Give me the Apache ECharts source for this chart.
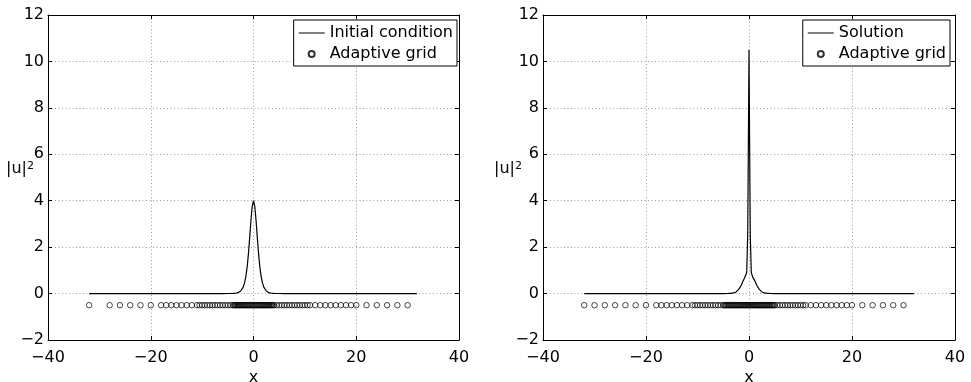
<!DOCTYPE html>
<html>
<head>
<meta charset="utf-8">
<script src="https://cdn.jsdelivr.net/npm/echarts@6/dist/echarts.min.js"></script>
<style>
html,body{margin:0;padding:0;background:#fff;}
#chart{width:971px;height:382px;}
</style>
</head>
<body>
<div id="chart"></div>
<script>
// ---- data ----
const xTicks = [-40, -20, 0, 20, 40];
const yTicks = [-2, 0, 2, 4, 6, 8, 10, 12];

// left panel: initial condition |u|^2
const initX = [-32, -6, -5, -4, -3.5, -3, -2.5, -2, -1.75, -1.5, -1.25, -1, -0.75, -0.5, -0.25, 0,
               0.25, 0.5, 0.75, 1, 1.25, 1.5, 1.75, 2, 2.5, 3, 3.5, 4, 5, 6, 31.8];
const initY = [0, 0, 0.002, 0.005, 0.015, 0.04, 0.11, 0.28, 0.46, 0.72, 1.12, 1.68, 2.39, 3.15, 3.76, 4.0,
               3.76, 3.15, 2.39, 1.68, 1.12, 0.72, 0.46, 0.28, 0.11, 0.04, 0.015, 0.005, 0.002, 0, 0];

// right panel: solution |u|^2
const solX = [-32, -5, -4, -3.5, -3, -2.5, -2, -1.5, -1.2, -0.9, -0.7, -0.45, -0.25, -0.12, 0,
              0.12, 0.25, 0.45, 0.7, 0.9, 1.2, 1.5, 2, 2.5, 3, 3.5, 4, 5, 32];
const solY = [0, 0, 0.005, 0.01, 0.03, 0.07, 0.18, 0.36, 0.52, 0.66, 0.72, 0.9, 2.5, 6.5, 10.5,
              6.5, 2.5, 0.9, 0.72, 0.66, 0.52, 0.36, 0.18, 0.07, 0.03, 0.01, 0.005, 0, 0];

// adaptive grid node positions (drawn at |u|^2 = -0.5)
const gridRowY = -0.5;
const gridInitX = [-32, -28, -26, -24, -22, -20, -18, -17, -16, -15, -14, -13, -12, -11,
  -10.5, -10, -9.5, -9, -8.5, -8, -7.5, -7, -6.5, -6, -5.5, -5, -4.5, -4,
  -3.8, -3.6, -3.4, -3.2, -3, -2.8, -2.6, -2.4, -2.2, -2, -1.8, -1.6, -1.4, -1.2, -1, -0.8, -0.6, -0.4, -0.2,
  0, 0.2, 0.4, 0.6, 0.8, 1, 1.2, 1.4, 1.6, 1.8, 2, 2.2, 2.4, 2.6, 2.8, 3, 3.2, 3.4, 3.6, 3.8, 4,
  4.5, 5, 5.5, 6, 6.5, 7, 7.5, 8, 8.5, 9, 9.5, 10, 10.5,
  11, 12, 13, 14, 15, 16, 17, 18, 19, 20, 22, 24, 26, 28, 30];
const gridSolX = [-32, -30, -28, -26, -24, -22, -20, -18, -17, -16, -15, -14, -13, -12, -11,
  -10.5, -10, -9.5, -9, -8.5, -8, -7.5, -7, -6.5, -6, -5.5,
  -5, -4.8, -4.6, -4.4, -4.2, -4, -3.8, -3.6, -3.4, -3.2, -3, -2.8, -2.6, -2.4, -2.2, -2, -1.8, -1.6, -1.4, -1.2, -1, -0.8, -0.6, -0.4, -0.2,
  0, 0.2, 0.4, 0.6, 0.8, 1, 1.2, 1.4, 1.6, 1.8, 2, 2.2, 2.4, 2.6, 2.8, 3, 3.2, 3.4, 3.6, 3.8, 4, 4.2, 4.4, 4.6, 4.8, 5,
  5.5, 6, 6.5, 7, 7.5, 8, 8.5, 9, 9.5, 10, 10.5,
  11, 12, 13, 14, 15, 16, 17, 18, 19, 20, 22, 24, 26, 28, 30];

// ---- chart ----
const FONT = 'DejaVu Sans';
const minus = v => String(v).replace('-', '\u2212');
const gridLine = {show: true, lineStyle: {color: '#9a9a9a', width: 1, type: [1, 2.5]}};

function xAxes(gi) {
  return [{
    gridIndex: gi, type: 'value', position: 'bottom',
    min: xTicks[0], max: xTicks[xTicks.length - 1], interval: 20,
    name: 'x', nameLocation: 'middle', nameGap: 30, nameMoveOverlap: false,
    nameTextStyle: {fontFamily: FONT, fontSize: 16, color: '#000'},
    axisLine: {onZero: false, lineStyle: {color: '#000', width: 1}},
    axisTick: {inside: true, length: 4, lineStyle: {color: '#000'}},
    axisLabel: {fontFamily: FONT, fontSize: 16, color: '#000', margin: 10, formatter: minus},
    splitLine: gridLine
  }, {
    gridIndex: gi, type: 'value', position: 'top',
    min: xTicks[0], max: xTicks[xTicks.length - 1], interval: 20,
    axisLine: {onZero: false, lineStyle: {color: '#000', width: 1}},
    axisTick: {inside: true, length: 4, lineStyle: {color: '#000'}},
    axisLabel: {show: false}, splitLine: {show: false}
  }];
}
function yAxes(gi, gap) {
  return [{
    gridIndex: gi, type: 'value', position: 'left',
    min: yTicks[0], max: yTicks[yTicks.length - 1], interval: 2,
    name: '{a||u|}{b|2}', nameLocation: 'middle', nameGap: gap, nameRotate: 0, nameMoveOverlap: false,
    nameTextStyle: {
      fontFamily: FONT, fontSize: 16, color: '#000', padding: [0, 0, 18, 0],
      rich: {
        a: {fontFamily: FONT, fontSize: 16, color: '#000'},
        b: {fontFamily: FONT, fontSize: 11, color: '#000', verticalAlign: 'top'}
      }
    },
    axisLine: {onZero: false, lineStyle: {color: '#000', width: 1}},
    axisTick: {inside: true, length: 4, lineStyle: {color: '#000'}},
    axisLabel: {fontFamily: FONT, fontSize: 16, color: '#000', margin: 4, formatter: minus},
    splitLine: gridLine
  }, {
    gridIndex: gi, type: 'value', position: 'right',
    min: yTicks[0], max: yTicks[yTicks.length - 1], interval: 2,
    axisLine: {onZero: false, lineStyle: {color: '#000', width: 1}},
    axisTick: {inside: true, length: 4, lineStyle: {color: '#000'}},
    axisLabel: {show: false}, splitLine: {show: false}
  }];
}
function legendFor(first, rightPos) {
  return {
    orient: 'vertical', right: rightPos, top: 20,
    backgroundColor: '#fff', borderColor: '#000', borderWidth: 1,
    padding: [5, 4, 4, 5], itemGap: 5, itemWidth: 26, itemHeight: 6,
    textStyle: {fontFamily: FONT, fontSize: 16, color: '#000'},
    selectedMode: false,
    data: [
      {name: first, icon: 'path://M0,0L26,0L26,1L0,1Z', itemStyle: {color: '#000', borderWidth: 0}},
      'Adaptive grid'
    ]
  };
}
const scatterStyle = {color: 'rgba(0,0,0,0)', borderColor: '#000', borderWidth: 0.9};

const option = {
  animation: false,
  backgroundColor: '#fff',
  grid: [
    {left: 48, top: 15, width: 411, height: 325, outerBoundsMode: 'none'},
    {left: 543, top: 15, width: 412, height: 325, outerBoundsMode: 'none'}
  ],
  xAxis: [...xAxes(0), ...xAxes(1)],
  yAxis: [...yAxes(0, 14), ...yAxes(1, 21)],
  legend: [legendFor('Initial condition', 514), legendFor('Solution', 21)],
  series: [
    {name: 'Initial condition', type: 'line', xAxisIndex: 0, yAxisIndex: 0,
     data: initX.map((x, i) => [x, initY[i]]), symbol: 'none', smooth: false,
     lineStyle: {color: '#000', width: 1.2}, itemStyle: {color: '#000'}},
    {name: 'Adaptive grid', type: 'scatter', xAxisIndex: 0, yAxisIndex: 0,
     data: gridInitX.map(x => [x, gridRowY]), symbol: 'circle', symbolSize: 5.5,
     itemStyle: scatterStyle},
    {name: 'Solution', type: 'line', xAxisIndex: 2, yAxisIndex: 2,
     data: solX.map((x, i) => [x, solY[i]]), symbol: 'none', smooth: false,
     lineStyle: {color: '#000', width: 1.2}, itemStyle: {color: '#000'}},
    {name: 'Adaptive grid', type: 'scatter', xAxisIndex: 2, yAxisIndex: 2,
     data: gridSolX.map(x => [x, gridRowY]), symbol: 'circle', symbolSize: 5.5,
     itemStyle: scatterStyle}
  ]
};
const chart = echarts.init(document.getElementById('chart'), null, {renderer: 'canvas'});
chart.setOption(option);
</script>
</body>
</html>
